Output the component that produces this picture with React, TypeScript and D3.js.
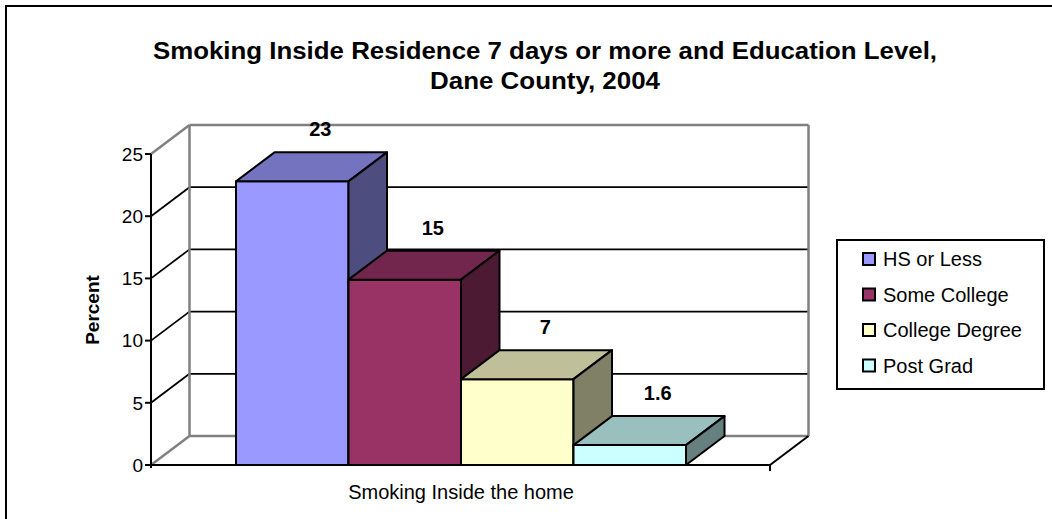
import React from "react";
import * as d3 from "d3";

const series = ["HS or Less", "Some College", "College Degree", "Post Grad"];
const values = [22.8, 14.9, 6.9, 1.6];
const valueLabels = ["23", "15", "7", "1.6"];
const category = "Smoking Inside the home";
const yTicks = [0, 5, 10, 15, 20, 25];
const colors = ["#9999FF", "#993366", "#FFFFCC", "#CCFFFF"];
const titleLines = ["Smoking Inside Residence 7 days or more and Education Level,", "Dane County, 2004"];
const yTitle = "Percent";

const FONT = "'Liberation Sans', Arial, Helvetica, sans-serif";

export default function App() {
  const W = 1052, H = 519;
  const y = d3.scaleLinear().domain([0, 25]).range([465, 154]);
  const x = d3.scaleBand<string>().domain(series).range([236, 686]).padding(0);
  const DX = 38.5, DY = -29;
  const axisX = 151, floorRight = 770;
  const backL = axisX + DX, backR = floorRight + DX;
  const shade = (c: string, k: number) => {
    const r = d3.rgb(c);
    return d3.rgb(r.r * k, r.g * k, r.b * k).formatHex();
  };
  const pts = (p: number[][]) => p.map((q) => q.join(",")).join(" ");
  const gray = "#808080";
  const titleLen = [784, 230];

  return (
    <svg width={W} height={H} style={{ position: "fixed", left: 0, top: 0, background: "#fff" }} fontFamily={FONT}>
      <rect x={0} y={0} width={W} height={H} fill="#fff" />
      <rect x={6} y={6} width={1100} height={600} fill="none" stroke="#000" strokeWidth={2} />
      {/* title */}
      {titleLines.map((t, i) => (
        <text key={i} x={545} y={59 + i * 30} textAnchor="middle" fontSize={23} fontWeight="bold"
          textLength={titleLen[i]} lengthAdjust="spacingAndGlyphs">{t}</text>
      ))}
      {/* walls: gridlines */}
      {yTicks.map((v) => {
        const yy = y(v);
        const edge = v === 0 || v === 25;
        return (
          <g key={v}>
            <line x1={axisX} y1={yy} x2={backL} y2={yy + DY} stroke={edge ? gray : "#000"} strokeWidth={edge ? 2.5 : 1.8} />
            <line x1={backL} y1={yy + DY} x2={backR} y2={yy + DY} stroke={edge ? gray : "#000"} strokeWidth={edge ? 2.5 : 1.8} />
          </g>
        );
      })}
      <line x1={backL} y1={y(0) + DY} x2={backL} y2={y(25) + DY} stroke={gray} strokeWidth={2.5} />
      <line x1={backR} y1={y(0) + DY} x2={backR} y2={y(25) + DY} stroke={gray} strokeWidth={2.5} />
      {/* floor front edges */}
      <line x1={axisX} y1={y(0)} x2={floorRight} y2={y(0)} stroke="#000" strokeWidth={2} />
      <line x1={floorRight} y1={y(0)} x2={backR} y2={y(0) + DY} stroke="#000" strokeWidth={2} />
      <line x1={floorRight} y1={y(0)} x2={floorRight} y2={y(0) + 6} stroke="#000" strokeWidth={2} />
      {/* bars */}
      {series.map((s, i) => {
        const x0 = x(s)!, x1 = x0 + x.bandwidth();
        const yt = y(values[i]), yb = y(0);
        const c = colors[i];
        return (
          <g key={s} stroke="#000" strokeWidth={2} strokeLinejoin="round">
            <polygon points={pts([[x0, yt], [x1, yt], [x1, yb], [x0, yb]])} fill={c} />
            <polygon points={pts([[x0, yt], [x0 + DX, yt + DY], [x1 + DX, yt + DY], [x1, yt]])} fill={shade(c, 0.75)} />
            <polygon points={pts([[x1, yt], [x1 + DX, yt + DY], [x1 + DX, yb + DY], [x1, yb]])} fill={shade(c, 0.5)} />
          </g>
        );
      })}
      {/* data labels */}
      {series.map((s, i) => (
        <text key={s} x={x(s)! + x.bandwidth() / 2 + 28} y={y(values[i]) + DY - 16} textAnchor="middle" fontSize={20} fontWeight="bold">{valueLabels[i]}</text>
      ))}
      {/* y axis */}
      <line x1={axisX} y1={y(25)} x2={axisX} y2={y(0) + 3} stroke="#000" strokeWidth={2} />
      {yTicks.map((v) => (
        <g key={v}>
          <line x1={axisX - 6} y1={y(v)} x2={axisX} y2={y(v)} stroke="#000" strokeWidth={2} />
          <text x={axisX - 8} y={y(v)} dy="0.36em" textAnchor="end" fontSize={19}>{v}</text>
        </g>
      ))}
      <text transform={`translate(99,310) rotate(-90)`} textAnchor="middle" fontSize={19} fontWeight="bold">{yTitle}</text>
      <text x={461} y={499} textAnchor="middle" fontSize={20}>{category}</text>
      {/* legend */}
      <rect x={837} y={240} width={207} height={149} fill="#fff" stroke="#000" strokeWidth={2} />
      {series.map((s, i) => (
        <g key={s}>
          <rect x={863} y={253 + i * 35.5} width={12} height={12} fill={colors[i]} stroke="#000" strokeWidth={2} />
          <text x={883} y={259 + i * 35.5} dy="0.36em" fontSize={20}>{s}</text>
        </g>
      ))}
    </svg>
  );
}
